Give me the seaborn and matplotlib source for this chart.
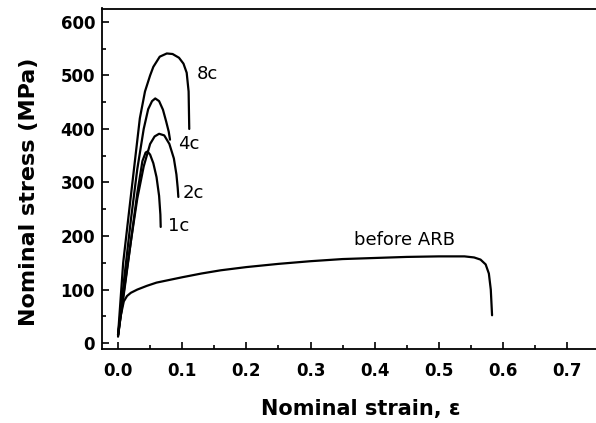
import pandas as pd
import seaborn as sns
import matplotlib.pyplot as plt
from matplotlib.ticker import MultipleLocator

# stress-strain curves (strain, MPa)
before_strain = [0.0, 0.004, 0.009, 0.014, 0.02, 0.03, 0.045, 0.06, 0.08, 0.1, 0.13, 0.16, 0.2,
                 0.25, 0.3, 0.35, 0.4, 0.45, 0.5, 0.54, 0.555, 0.565, 0.573, 0.578, 0.581, 0.583]
before_stress = [12, 50, 78, 88, 94, 100, 107, 113, 118, 123, 130, 136, 142,
                 148, 153, 157, 159, 161, 162, 162, 160, 156, 147, 130, 100, 52]

c1_strain = [0.0, 0.01, 0.02, 0.03, 0.038, 0.043, 0.046, 0.05, 0.055, 0.06, 0.064, 0.066, 0.0665]
c1_stress = [15, 100, 190, 280, 340, 356, 358, 352, 336, 310, 275, 240, 217]

c2_strain = [0.0, 0.01, 0.02, 0.03, 0.04, 0.05, 0.057, 0.064, 0.072, 0.08, 0.087, 0.091, 0.093, 0.094]
c2_stress = [15, 105, 190, 270, 330, 372, 386, 391, 388, 372, 345, 315, 290, 273]

c4_strain = [0.0, 0.01, 0.02, 0.03, 0.04, 0.047, 0.053, 0.058, 0.064, 0.07, 0.075, 0.079, 0.081]
c4_stress = [15, 125, 230, 325, 400, 437, 452, 457, 452, 436, 414, 395, 380]

c8_strain = [0.0, 0.008, 0.02, 0.034, 0.042, 0.05, 0.055, 0.065, 0.076, 0.085, 0.095, 0.102,
             0.107, 0.11, 0.111]
c8_stress = [15, 150, 275, 420, 470, 500, 516, 535, 541, 540, 533, 522, 505, 470, 400]

curves = {
    "before ARB": (before_strain, before_stress),
    "1c": (c1_strain, c1_stress),
    "2c": (c2_strain, c2_stress),
    "4c": (c4_strain, c4_stress),
    "8c": (c8_strain, c8_stress),
}

# label text and anchor (strain, stress)
label_names = ["8c", "4c", "2c", "1c", "before ARB"]
label_x = [0.14, 0.110, 0.118, 0.094, 0.447]
label_y = [503, 372, 280, 218, 192]

sns.set_style("ticks")
plt.rcParams['font.family'] = ['DejaVu Sans']

fig = plt.figure(figsize=(5.96, 4.23), dpi=100)
ax = fig.add_axes([102 / 596, 1 - 349 / 423, (596 - 102) / 596, (349 - 8.5) / 423])

for name, (xs, ys) in curves.items():
    df = pd.DataFrame({"strain": xs, "stress": ys})
    sns.lineplot(data=df, x="strain", y="stress", sort=False, estimator=None,
                 color="black", linewidth=1.6, ax=ax)

for name, x, y in zip(label_names, label_x, label_y):
    ax.text(x, y, name, fontsize=13, ha="center", va="center", color="black")

ax.set_xlim(-0.025, 0.745)
ax.set_ylim(-11, 625)
ax.xaxis.set_minor_locator(MultipleLocator(0.05))
ax.yaxis.set_major_locator(MultipleLocator(100))
ax.yaxis.set_minor_locator(MultipleLocator(50))
ax.set_xticks([0, 0.1, 0.2, 0.3, 0.4, 0.5, 0.6, 0.7])
ax.set_xticklabels(["0.0", "0.1", "0.2", "0.3", "0.4", "0.5", "0.6", "0.7"])

ax.tick_params(which="both", direction="in", top=False, right=False, width=1.2, colors="black")
ax.tick_params(which="major", length=5, labelsize=12)
ax.tick_params(axis="x", which="major", pad=9)
ax.tick_params(axis="y", which="major", pad=5)
ax.tick_params(which="minor", length=3)
for lab in ax.get_xticklabels() + ax.get_yticklabels():
    lab.set_fontweight("bold")

ax.spines["right"].set_visible(False)
for s in ["left", "bottom", "top"]:
    ax.spines[s].set_linewidth(1.3)
    ax.spines[s].set_color("black")

ax.set_xlabel("Nominal strain, \u03b5", fontsize=15, fontweight="bold", color="black")
ax.set_ylabel("Nominal stress (MPa)", fontsize=16, fontweight="bold", color="black")
ax.xaxis.set_label_coords(0.524, -0.148)
ax.yaxis.set_label_coords(-0.128, 0.462)

fig.savefig("out.png", dpi=100)
